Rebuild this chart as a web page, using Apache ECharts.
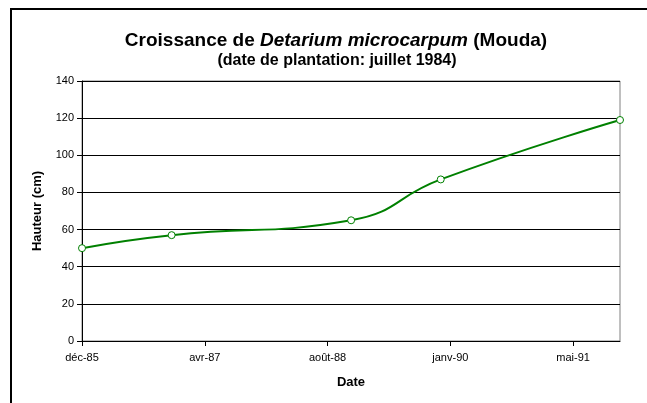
<!DOCTYPE html>
<html>
<head>
<meta charset="utf-8">
<script src="https://cdn.jsdelivr.net/npm/echarts@6/dist/echarts.min.js"></script>
<style>
html,body{margin:0;padding:0;background:#fff;}
#chart{width:647px;height:403px;}
</style>
</head>
<body>
<div id="chart"></div>
<script>
// Data
var dates = ['1985-12-01', '1986-12-01', '1988-12-01', '1989-12-01', '1991-12-01'];
var heights = [50, 57, 65, 87, 119];
var yTicks = [0, 20, 40, 60, 80, 100, 120, 140];
var tickStepDays = 500; // Excel date axis major unit (days)
var monthNames = ['janv', 'févr', 'mars', 'avr', 'mai', 'juin', 'juil', 'août', 'sept', 'oct', 'nov', 'déc'];

var DAY = 86400000;
function toUTC(s) { var p = s.split('-'); return Date.UTC(+p[0], +p[1] - 1, +p[2]); }
var origin = toUTC(dates[0]);
function dayOffset(s) { return Math.round((toUTC(s) - origin) / DAY); }
var xMax = dayOffset(dates[dates.length - 1]);
var seriesData = dates.map(function (d, i) { return [dayOffset(d), heights[i]]; });

function fmtDate(v) {
  if (Math.abs(v % tickStepDays) > 0.001) return '';
  var d = new Date(origin + v * DAY);
  var yy = String(d.getUTCFullYear()).slice(2);
  return monthNames[d.getUTCMonth()] + '-' + yy;
}

var FONT = '"Liberation Sans", Arial, sans-serif';
var chart = echarts.init(document.getElementById('chart'), null, { renderer: 'canvas' });
chart.setOption({
  animation: false,
  backgroundColor: '#fff',
  title: [{
    left: 331, top: 26, textAlign: 'center',
    text: '{n|Croissance de }{i|Detarium microcarpum}{n| (Mouda)}',
    textStyle: {
      rich: {
        n: { fontFamily: FONT, fontSize: 19, fontWeight: 'bold', color: '#000' },
        i: { fontFamily: FONT, fontSize: 19, fontWeight: 'bold', fontStyle: 'italic', color: '#000' }
      }
    }
  }, {
    left: 332, top: 48, textAlign: 'center',
    text: '(date de plantation: juillet 1984)',
    textStyle: { fontFamily: FONT, fontSize: 16, fontWeight: 'bold', color: '#000' }
  }],
  graphic: [{
    type: 'rect', silent: true, z: 100,
    shape: { x: 11, y: 9, width: 700, height: 500 },
    style: { fill: null, stroke: '#000', lineWidth: 2 }
  }],
  grid: {
    left: 82, right: 27, top: 81, bottom: 62,
    show: true, borderColor: '#808080', borderWidth: 1, backgroundColor: 'transparent'
  },
  xAxis: {
    type: 'value', min: 0, max: xMax, interval: tickStepDays,
    name: 'Date', nameLocation: 'middle', nameGap: 35,
    nameTextStyle: { fontFamily: FONT, fontSize: 13, fontWeight: 'bold', color: '#000' },
    axisLine: { show: true, lineStyle: { color: '#000', width: 1 } },
    axisTick: { show: true, length: 5, lineStyle: { color: '#000' } },
    axisLabel: { formatter: fmtDate, fontFamily: FONT, fontSize: 11, color: '#000', margin: 11, showMaxLabel: false },
    splitLine: { show: false }
  },
  yAxis: {
    type: 'value', min: yTicks[0], max: yTicks[yTicks.length - 1], interval: yTicks[1] - yTicks[0],
    name: 'Hauteur (cm)', nameLocation: 'middle', nameGap: 38, nameRotate: 90,
    nameTextStyle: { fontFamily: FONT, fontSize: 13, fontWeight: 'bold', color: '#000' },
    axisLine: { show: true, lineStyle: { color: '#000', width: 1 } },
    axisTick: { show: true, length: 5, lineStyle: { color: '#000' } },
    axisLabel: { fontFamily: FONT, fontSize: 11, color: '#000', margin: 8 },
    splitLine: { show: true, lineStyle: { color: '#000', width: 1 } }
  },
  series: [{
    type: 'line',
    data: seriesData,
    smooth: true,
    symbol: 'circle', symbolSize: 7,
    lineStyle: { color: '#008000', width: 2 },
    itemStyle: { color: '#fff', borderColor: '#008000', borderWidth: 1 },
    z: 10
  }]
});
</script>
</body>
</html>
